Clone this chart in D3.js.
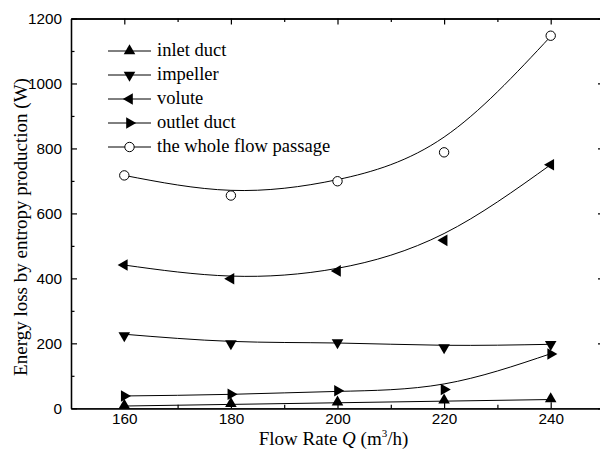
<!DOCTYPE html>
<html>
<head>
<meta charset="utf-8">
<script src="https://cdn.jsdelivr.net/npm/d3@7"></script>
<style>
  body { margin: 0; background: #fff; }
  svg { display: block; }
</style>
</head>
<body>
<div id="chart"></div>
<script>
// flow rates (m3/h)
const flowRates = [160, 180, 200, 220, 240];

const inletDuct  = [9, 14, 19, 25, 29];
const impeller   = [224, 199, 202, 187, 197];
const volute     = [441, 399, 423, 517, 750];
const outletDuct = [38, 43, 54, 58, 167];
const wholeFlow  = [717, 655, 699, 788, 1147];

// fitted trend lines (W)
const inletFit  = [7, 12, 17, 22, 27];
const impFit    = [228, 206, 201, 194, 197];
const voluteFit = [441, 407, 431, 538, 750];
const outletFit = [38, 43, 52, 75, 168];
const wholeFit  = [717, 671, 704, 835, 1145];

const seriesNames = ["inlet duct", "impeller", "volute", "outlet duct", "the whole flow passage"];

const xMajor = [160, 180, 200, 220, 240];
const xMinor = [170, 190, 210, 230];
const yMajor = [0, 200, 400, 600, 800, 1000, 1200];
const yMinor = [100, 300, 500, 700, 900, 1100];

const width = 600,
  height = 450,
  margin = {top: 18.5, right: -4, bottom: 41.7, left: 71};

const svg = d3.select("#chart")
  .append("svg")
  .attr("width", width)
  .attr("height", height);

const x = d3.scaleLinear([150, 250], [margin.left, width - margin.right]);
const y = d3.scaleLinear([0, 1200], [height - margin.bottom, margin.top]);

const sansFont = "'Liberation Sans', Arial, sans-serif";
const serifFont = "'Liberation Serif', 'Times New Roman', serif";

// axes (ticks pointing inward, mirrored on top/right)
function styleAxis(g) {
  g.select(".domain").attr("stroke", "#000").attr("stroke-width", 1.3);
  g.selectAll(".tick line").attr("stroke", "#000").attr("stroke-width", 1.2);
  g.selectAll("text").attr("fill", "#000")
    .style("font-family", sansFont).style("font-size", "15.3px");
}

svg.append("g")
  .attr("transform", `translate(0,${y(0)})`)
  .call(d3.axisBottom(x).tickValues(xMajor).tickSizeInner(-6).tickSizeOuter(0).tickPadding(5).tickFormat(d3.format("d")))
  .call(styleAxis);
svg.append("g")
  .attr("transform", `translate(0,${y(0)})`)
  .call(d3.axisBottom(x).tickValues(xMinor).tickSizeInner(-3.5).tickSizeOuter(0).tickFormat(""))
  .call(styleAxis);

svg.append("g")
  .attr("transform", `translate(0,${y(1200)})`)
  .call(d3.axisTop(x).tickValues(xMajor).tickSizeInner(-6).tickSizeOuter(0).tickFormat(""))
  .call(styleAxis);
svg.append("g")
  .attr("transform", `translate(0,${y(1200)})`)
  .call(d3.axisTop(x).tickValues(xMinor).tickSizeInner(-3.5).tickSizeOuter(0).tickFormat(""))
  .call(styleAxis);

svg.append("g")
  .attr("transform", `translate(${x(150)},0)`)
  .call(d3.axisLeft(y).tickValues(yMajor).tickSizeInner(-6).tickSizeOuter(0).tickPadding(9).tickFormat(d3.format("d")))
  .call(styleAxis);
svg.append("g")
  .attr("transform", `translate(${x(150)},0)`)
  .call(d3.axisLeft(y).tickValues(yMinor).tickSizeInner(-3.5).tickSizeOuter(0).tickFormat(""))
  .call(styleAxis);

svg.append("g")
  .attr("transform", `translate(${x(250)},0)`)
  .call(d3.axisRight(y).tickValues(yMajor).tickSizeInner(-6).tickSizeOuter(0).tickFormat(""))
  .call(styleAxis);
svg.append("g")
  .attr("transform", `translate(${x(250)},0)`)
  .call(d3.axisRight(y).tickValues(yMinor).tickSizeInner(-3.5).tickSizeOuter(0).tickFormat(""))
  .call(styleAxis);

// series
const series = [
  {name: seriesNames[0], pts: inletDuct,  fit: inletFit,  shape: "up"},
  {name: seriesNames[1], pts: impeller,   fit: impFit,    shape: "down"},
  {name: seriesNames[2], pts: volute,     fit: voluteFit, shape: "left"},
  {name: seriesNames[3], pts: outletDuct, fit: outletFit, shape: "right"},
  {name: seriesNames[4], pts: wholeFlow,  fit: wholeFit,  shape: "circle"}
];

const rotation = {up: 0, down: 180, left: -90, right: 90};
const tri = d3.symbol().type(d3.symbolTriangle).size(58);

function drawMarker(g, shape, cx, cy) {
  if (shape === "circle") {
    g.append("circle")
      .attr("cx", cx).attr("cy", cy).attr("r", 4.7)
      .attr("fill", "#fff").attr("stroke", "#000").attr("stroke-width", 1);
  } else {
    g.append("path")
      .attr("d", tri())
      .attr("transform", `translate(${cx},${cy}) rotate(${rotation[shape]})`)
      .attr("fill", "#000");
  }
}

const line = d3.line()
  .x((d, i) => x(flowRates[i]))
  .y(d => y(d))
  .curve(d3.curveNatural);

series.forEach(s => {
  const g = svg.append("g");
  g.append("path")
    .attr("d", line(s.fit))
    .attr("fill", "none")
    .attr("stroke", "#000")
    .attr("stroke-width", 1);
  s.pts.forEach((v, i) => drawMarker(g, s.shape, x(flowRates[i]), y(v)));
});

// legend
const legend = svg.append("g");
series.forEach((s, i) => {
  const ly = 51 + i * 24;
  legend.append("line")
    .attr("x1", 108).attr("x2", 151)
    .attr("y1", ly).attr("y2", ly)
    .attr("stroke", "#000").attr("stroke-width", 1);
  drawMarker(legend, s.shape, 129.5, ly);
  legend.append("text")
    .attr("x", 157)
    .attr("y", ly + 5)
    .style("font-family", serifFont)
    .style("font-size", "18.5px")
    .text(s.name);
});

// axis titles
svg.append("text")
  .attr("transform", "translate(26.7,227) rotate(-90)")
  .attr("text-anchor", "middle")
  .style("font-family", serifFont)
  .style("font-size", "19px")
  .text("Energy loss by entropy production (W)");

const xt = svg.append("text")
  .attr("x", 333.5)
  .attr("y", 445)
  .attr("text-anchor", "middle")
  .style("font-family", serifFont)
  .style("font-size", "19px");
xt.append("tspan").text("Flow Rate ");
xt.append("tspan").style("font-style", "italic").text("Q");
xt.append("tspan").text(" (m");
xt.append("tspan").attr("dy", -8).style("font-size", "11px").text("3");
xt.append("tspan").attr("dy", 8).text("/h)");
</script>
</body>
</html>
